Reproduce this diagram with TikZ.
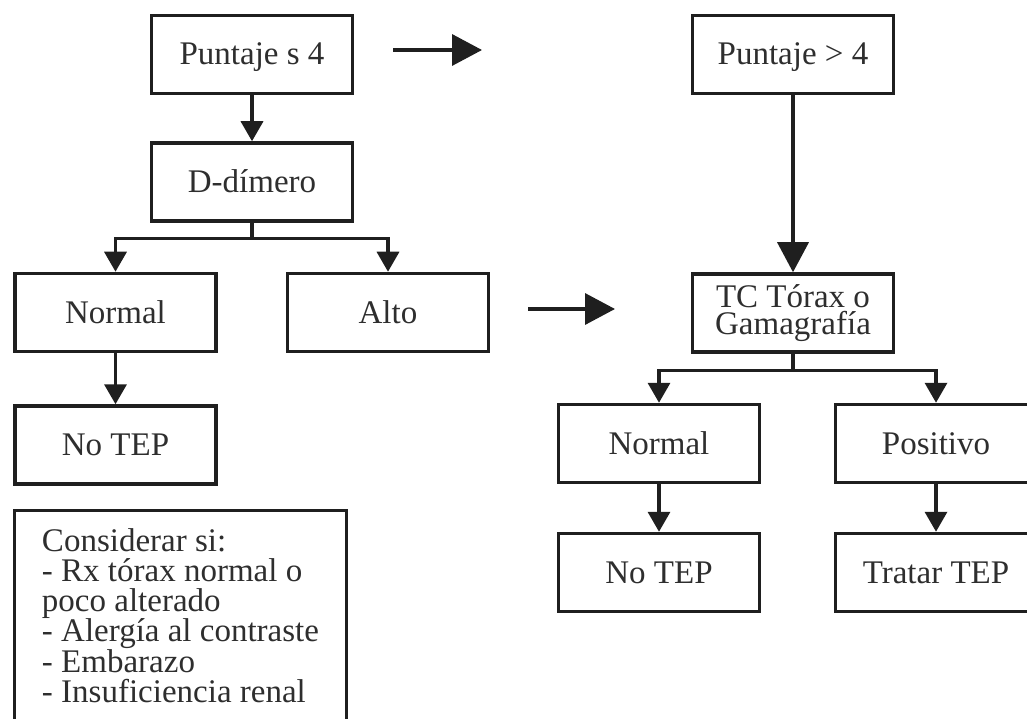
\documentclass[tikz,border=0pt]{standalone}
\usepackage{fontspec}
\setmainfont{Liberation Serif}
\usetikzlibrary{arrows.meta}
\begin{document}
\begin{tikzpicture}[x=1pt,y=-1pt,
  box/.style={draw=black!88, line width=3.5pt, minimum width=201pt, minimum height=78pt,
    inner sep=0pt, text=black!82, font=\fontsize{33}{30}\selectfont},
  oneline/.style={text height=23pt, text depth=2pt},
  link/.style={draw=black!88, line width=3.5pt, -{Triangle[length=20pt,width=22pt]}},
  biglink/.style={draw=black!88, line width=3.5pt, -{Triangle[length=30pt,width=31pt]}},
]
\clip (0,0) rectangle (1027,719);

% left branch: low score
\node[box,oneline] (p1) at (252,54.5) {Puntaje s 4};
\node[box,oneline] (dd) at (252,182) {D-dímero};
\node[box,oneline] (nl) at (115.5,312.5) {Normal};
\node[box,oneline] (alto) at (388,312.5) {Alto};
\node[box,oneline] (ntl) at (115.5,445) {No TEP};
\node[box, minimum width=332pt, minimum height=210pt, align=left]
  (cons) at (180.5,615.5)
  {Considerar si:\\- Rx tórax normal o\\poco alterado\\- Alergía al contraste\\- Embarazo\\- Insuficiencia renal};

% right branch: high score
\node[box,oneline] (p2) at (793,54.5) {Puntaje > 4};
\node[box, align=center, font=\fontsize{33}{27}\selectfont] (tc) at (793,313) {TC Tórax o\\Gamagrafía};
\node[box,oneline] (nr) at (659,443.5) {Normal};
\node[box,oneline] (pos) at (936,443.5) {Positivo};
\node[box,oneline] (ntr) at (659,572.5) {No TEP};
\node[box,oneline] (tt) at (936,572.5) {Tratar TEP};

% free-standing arrows between the two columns
\coordinate (t1) at (393,50);
\coordinate (t2) at (482,50);
\coordinate (m1) at (528,309);
\coordinate (m2) at (615,309);
\draw[biglink] (t1) -- (t2);
\draw[biglink] (m1) -- (m2);

% connectors
\draw[link] (p1) -- (dd);
\draw[link] (dd.south) -- ++(0,16) -| (nl.north);
\draw[link] (dd.south) -- ++(0,16) -| (alto.north);
\draw[link] (nl) -- (ntl);
\draw[biglink] (p2) -- (tc);
\draw[link] (tc.south) -- ++(0,16.5) -| (nr.north);
\draw[link] (tc.south) -- ++(0,16.5) -| (pos.north);
\draw[link] (nr) -- (ntr);
\draw[link] (pos) -- (tt);
\end{tikzpicture}
\end{document}
